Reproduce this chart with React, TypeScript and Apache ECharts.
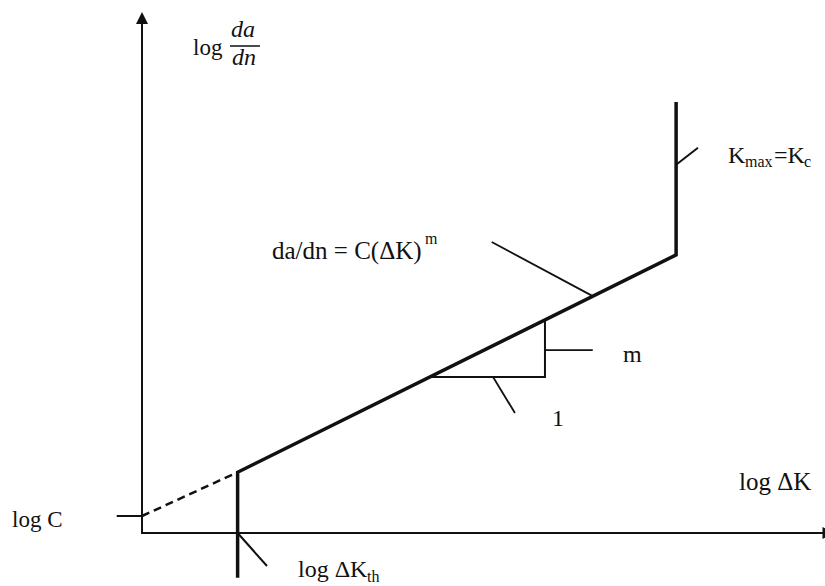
import React, { useEffect, useRef } from "react";
import * as echarts from "echarts";

// Fatigue crack growth schematic, in axis units: x = log ΔK, y = log da/dn.
const logC = 0.33;
const logDKth = 1.4;
const logDKc = 7.82;
const rateAtThreshold = 1.18;
const rateAtFracture = 5.4;
const fractureTop = 8.37;
const thresholdBottom = -0.87;

// Main curve: threshold drop, Paris regime, then the vertical rise at K_max = K_c.
const growthCurve = [
  [logDKth, thresholdBottom],
  [logDKth, rateAtThreshold],
  [logDKc, rateAtFracture],
  [logDKc, fractureTop],
];
// Paris line extended back to ΔK = 1 (log ΔK = 0).
const extrapolation = [
  [0, logC],
  [logDKth, rateAtThreshold],
];
// Slope triangle under the Paris line (run 1, rise m).
const slopeTriangle = [
  [4.22, 3.03],
  [5.9, 3.03],
  [5.9, 4.14],
];
// Short tick marking log C, just left of the vertical axis.
const logCTick = [
  [-0.37, logC],
  [0, logC],
];
const thresholdLeader = [
  [logDKth, 0],
  [1.83, -0.64],
];
const fractureLeader = [
  [logDKc, 7.15],
  [8.14, 7.48],
];
const parisLeader = [
  [5.12, 5.65],
  [6.6, 4.6],
];
const riseLeader = [
  [5.9, 3.55],
  [6.6, 3.55],
];
const runLeader = [
  [5.14, 3.03],
  [5.46, 2.33],
];

const INK = "#111";
const SERIF = '"Liberation Serif", "Times New Roman", serif';

function segment(name: string, data: number[][], width: number, dash?: number[]) {
  return {
    type: "lines",
    name,
    coordinateSystem: "cartesian2d",
    polyline: true,
    clip: false,
    silent: true,
    animation: false,
    data: [{ coords: data }],
    lineStyle: {
      color: INK,
      opacity: 1,
      width,
      type: dash ?? "solid",
      join: "miter",
      cap: "butt",
    },
  };
}

function label(text: string, x: number, y: number, size: number, italic = false) {
  return {
    type: "text",
    x,
    y,
    silent: true,
    style: {
      text,
      fill: INK,
      font: `${italic ? "italic " : ""}${size}px ${SERIF}`,
      textVerticalAlign: "middle",
      verticalAlign: "middle",
    },
  };
}

export default function App() {
  const ref = useRef<HTMLDivElement>(null);

  useEffect(() => {
    if (!ref.current) return;
    document.body.style.margin = "0";
    const chart = echarts.init(ref.current, null, { renderer: "svg" });
    chart.setOption({
      animation: false,
      backgroundColor: "#fff",
      grid: { left: 142, right: 0, top: 18, bottom: 53 },
      xAxis: {
        type: "value",
        min: 0,
        max: 10,
        axisLine: {
          show: true,
          onZero: false,
          symbol: ["none", "triangle"],
          symbolSize: [12, 13],
          symbolOffset: [0, 4],
          lineStyle: { color: INK, width: 2 },
        },
        axisTick: { show: false },
        axisLabel: { show: false },
        splitLine: { show: false },
      },
      yAxis: {
        type: "value",
        min: 0,
        max: 10,
        axisLine: {
          show: true,
          onZero: false,
          symbol: ["none", "triangle"],
          symbolSize: [12, 12],
          symbolOffset: [0, 0],
          lineStyle: { color: INK, width: 2 },
        },
        axisTick: { show: false },
        axisLabel: { show: false },
        splitLine: { show: false },
      },
      series: [
        segment("extrapolation", extrapolation, 2.5, [8, 5]),
        segment("growth", growthCurve, 3.5),
        segment("slope", slopeTriangle, 2),
        segment("logC", logCTick, 2),
        segment("thresholdLeader", thresholdLeader, 2),
        segment("fractureLeader", fractureLeader, 2),
        segment("parisLeader", parisLeader, 1.8),
        segment("riseLeader", riseLeader, 1.8),
        segment("runLeader", runLeader, 1.8),
      ],
      graphic: [
        label("log", 193, 47, 23),
        label("da", 231, 29, 24, true),
        label("dn", 232, 57, 24, true),
        {
          type: "line",
          silent: true,
          shape: { x1: 230, y1: 46, x2: 260, y2: 46 },
          style: { stroke: INK, lineWidth: 1.5 },
        },
        label("log C", 12, 519, 23),
        label("log ΔK", 739, 481, 25),
        label("log ΔK", 298, 569, 24),
        label("th", 367, 576, 16),
        label("K", 728, 155, 24),
        label("max", 745, 161, 16),
        label("=K", 774, 155, 24),
        label("c", 804, 161, 16),
        label("da/dn = C(ΔK)", 272, 250, 25),
        label("m", 425, 238, 16),
        label("m", 623, 354, 24),
        label("1", 552, 418, 24),
      ],
    });
    return () => chart.dispose();
  }, []);

  return (
    <div
      ref={ref}
      style={{ position: "fixed", left: 0, top: 0, width: 825, height: 586 }}
    />
  );
}
